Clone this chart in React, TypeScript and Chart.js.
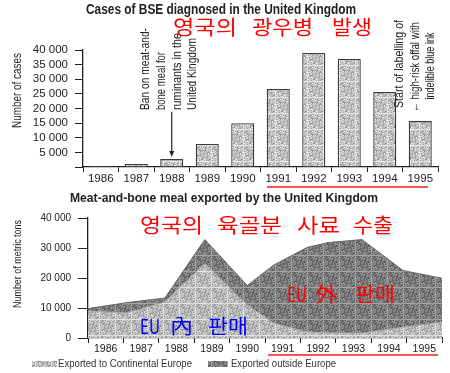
import React, { useEffect, useRef } from "react";
import { Chart, registerables } from "chart.js";

Chart.register(...registerables);

// ---- data: BSE cases (top chart) ----
const bseYears = ["1986", "1987", "1988", "1989", "1990", "1991", "1992", "1993", "1994", "1995"];
const bseCases = [300, 1000, 2700, 7900, 15000, 26700, 39000, 36900, 25600, 15700];
const bseTickStep = 5000;
const bseMax = 40000;

// ---- data: meat-and-bone meal exports (bottom chart) ----
const exportYearLabels = [1986, 1987, 1988, 1989, 1990, 1991, 1992, 1993, 1994, 1995];
const exportPointYears = [1985.5, 1986.6, 1987.67, 1988.8, 1990.0, 1990.73, 1991.69, 1992.28, 1993.24, 1994.4, 1995.5];
const exportedContinental = [9000, 8300, 12000, 24800, 11000, 5000, 2000, 1700, 1600, 3600, 5300];
const exportedOutside = [800, 3500, 1300, 8000, 6500, 19200, 28200, 30100, 31200, 18900, 14600];
const exportTickStep = 10000;
const exportMax = 40000;

const seriesNames = ["Exported to Continental Europe", "Exported outside Europe"];

const INK = "#222";
const LATIN = "'Liberation Sans', Arial, sans-serif";
const NARROW = "'Liberation Sans Narrow', 'Liberation Sans', Arial, sans-serif";
const KR = "'Noto Sans CJK KR', sans-serif";

const fmt = (v: number) => {
  const s = String(Math.round(v));
  return s.length > 3 ? s.slice(0, s.length - 3) + " " + s.slice(s.length - 3) : s;
};

function makePattern(ctx: CanvasRenderingContext2D, base: string, light: string, dark: string) {
  const c = document.createElement("canvas");
  c.width = 16;
  c.height = 16;
  const g = c.getContext("2d")!;
  g.fillStyle = base;
  g.fillRect(0, 0, 16, 16);
  for (let i = 0; i < 16; i++) {
    for (let j = 0; j < 16; j++) {
      const h = (i * 73 + j * 151 + i * j * 29) % 17;
      if (h < 4) {
        g.fillStyle = dark;
        g.fillRect(i, j, 1, 1);
      } else if (h > 12) {
        g.fillStyle = light;
        g.fillRect(i, j, 1, 1);
      }
    }
  }
  return ctx.createPattern(c, "repeat") as CanvasPattern;
}

// draw text fitted to a target width; (x,y) = start (or center) point, baseline middle
function fitText(
  ctx: CanvasRenderingContext2D,
  text: string,
  x: number,
  y: number,
  width: number,
  font: string,
  color: string,
  opts: { rotate?: boolean; align?: "left" | "center" } = {}
) {
  ctx.save();
  ctx.font = font;
  ctx.fillStyle = color;
  ctx.textBaseline = "middle";
  ctx.textAlign = "left";
  const w = ctx.measureText(text).width || 1;
  const sx = width / w;
  ctx.translate(x, y);
  if (opts.rotate) ctx.rotate(-Math.PI / 2);
  ctx.scale(sx, 1);
  ctx.fillText(text, opts.align === "center" ? -w / 2 : 0, 0);
  ctx.restore();
}

// draw a phrase word by word, each word fitted to its span [x1, x2]
function words(ctx: CanvasRenderingContext2D, parts: [string, number, number][], y: number, color: string) {
  parts.forEach(([t, x1, x2]) => fitText(ctx, t, x1, y, x2 - x1, `20px ${KR}`, color));
}

function redLine(ctx: CanvasRenderingContext2D, x1: number, x2: number, y: number) {
  ctx.save();
  ctx.strokeStyle = "#ff1a1a";
  ctx.lineWidth = 1.5;
  ctx.beginPath();
  ctx.moveTo(x1, y);
  ctx.lineTo(x2, y);
  ctx.stroke();
  ctx.restore();
}

function stepTicks(max: number, step: number) {
  const out: { value: number }[] = [];
  for (let v = 0; v <= max; v += step) out.push({ value: v });
  return out;
}

export default function App() {
  const topRef = useRef<HTMLCanvasElement>(null);
  const botRef = useRef<HTMLCanvasElement>(null);

  useEffect(() => {
    const topCtx = topRef.current!.getContext("2d")!;
    const botCtx = botRef.current!.getContext("2d")!;

    const barPattern = makePattern(topCtx, "#c2c2c2", "#e8e8e8", "#939393");
    const lightPattern = makePattern(botCtx, "#bababa", "#e2e2e2", "#909090");
    const darkPattern = makePattern(botCtx, "#7b7b7b", "#a4a4a4", "#555555");

    const topPlugin = {
      id: "topDecor",
      afterDraw(chart: any) {
        const ctx: CanvasRenderingContext2D = chart.ctx;
        const xs = chart.scales.x;
        const ys = chart.scales.y;
        fitText(ctx, "Cases of BSE diagnosed in the United Kingdom", 86, 10, 270, `bold 14px ${LATIN}`, INK);
        fitText(ctx, "Number of cases", 18, 128, 75, `12px ${NARROW}`, INK, { rotate: true });

        // annotation: ban
        const banLines = ["Ban on meat-and-", "bone meal for", "ruminants in the", "United Kingdom"];
        const banLens = [82, 58, 77, 72];
        const banX = [146, 162, 178, 193];
        banLines.forEach((t, i) =>
          fitText(ctx, t, banX[i], 110, banLens[i], `12.5px ${NARROW}`, INK, { rotate: true })
        );
        const ax = xs.getPixelForValue(2);
        const ay = ys.getPixelForValue(bseCases[2]);
        ctx.save();
        ctx.strokeStyle = INK;
        ctx.fillStyle = INK;
        ctx.lineWidth = 1.2;
        ctx.beginPath();
        ctx.moveTo(ax, 112);
        ctx.lineTo(ax, ay - 6);
        ctx.stroke();
        ctx.beginPath();
        ctx.moveTo(ax - 2.5, ay - 8);
        ctx.lineTo(ax + 2.5, ay - 8);
        ctx.lineTo(ax, ay - 2);
        ctx.closePath();
        ctx.fill();
        ctx.restore();

        // annotation: labelling
        const labLines = ["Start of labelling of", "\u2190 high-risk offal with", "indelible blue ink"];
        const labLens = [88, 90, 67];
        const labX = [400, 416, 431];
        const labMid = [64, 67, 66];
        labLines.forEach((t, i) =>
          fitText(ctx, t, labX[i], labMid[i], labLens[i], `12.5px ${NARROW}`, INK, { rotate: true, align: "center" })
        );

        // Korean overlay
        words(ctx, [["영국의", 173, 237], ["광우병", 252, 313], ["발생", 332, 372]], 27, "#ff0000");
        redLine(ctx, 267, 428, 187);
      },
    };

    const topChart = new Chart(topCtx, {
      type: "bar",
      data: {
        labels: bseYears,
        datasets: [
          {
            data: bseCases,
            backgroundColor: barPattern,
            borderColor: "#3c3c3c",
            borderWidth: { left: 1.3, right: 1.3, top: 1.3, bottom: 0 } as any,
            borderSkipped: "start",
            categoryPercentage: 1,
            barPercentage: 0.65,
          },
        ],
      },
      options: {
        responsive: false,
        animation: false,
        devicePixelRatio: 1,
        layout: { padding: { left: 0, right: 12, top: 50, bottom: 0 } },
        plugins: { legend: { display: false }, tooltip: { enabled: false }, title: { display: false } },
        scales: {
          x: {
            grid: { drawOnChartArea: false, drawTicks: true, tickLength: 5, color: INK, offset: true },
            border: { display: true, color: INK, width: 1.3 },
            ticks: { font: { family: LATIN, size: 11.5 }, color: INK, padding: 0, maxRotation: 0, autoSkip: false },
            afterFit: (s: any) => {
              s.height = 23;
            },
          },
          y: {
            min: 0,
            max: bseMax,
            afterBuildTicks: (s: any) => {
              s.ticks = stepTicks(bseMax, bseTickStep);
            },
            ticks: {
              autoSkip: false,
              callback: (v: any) => (v === 0 ? "" : fmt(v)),
              font: { family: LATIN, size: 11.5 },
              color: INK,
              padding: 7,
            },
            grid: { drawOnChartArea: false, tickLength: 8, color: INK },
            border: { display: true, color: INK, width: 1.3 },
            afterFit: (s: any) => {
              s.width = 83;
            },
          },
        },
      },
      plugins: [topPlugin],
    });

    const halfTicks: number[] = [];
    exportYearLabels.forEach((y, i) => {
      if (i === 0) halfTicks.push(y - 0.5);
      halfTicks.push(y);
      halfTicks.push(y + 0.5);
    });

    const botPlugin = {
      id: "botDecor",
      afterDraw(chart: any) {
        const ctx: CanvasRenderingContext2D = chart.ctx;
        fitText(ctx, "Meat-and-bone meal exported by the United Kingdom", 70, 9, 308, `bold 12.5px ${LATIN}`, INK);
        fitText(ctx, "Number of metric tons", 18, 118, 88, `11.5px ${NARROW}`, INK, { rotate: true });
        words(ctx, [["영국의", 140, 203], ["육골분", 217, 282], ["사료", 297, 340], ["수출", 353, 393]], 35, "#ff0000");
        words(ctx, [["EU", 287, 307], ["外", 315, 338], ["판매", 355, 395]], 104, "#ff0000");
        words(ctx, [["EU", 140, 160], ["內", 170, 193], ["판매", 208, 248]], 136, "#0000ff");
        redLine(ctx, 268, 438, 165);

        // legend
        ctx.save();
        ctx.fillStyle = lightPattern;
        ctx.fillRect(32, 171, 25, 6);
        ctx.fillStyle = darkPattern;
        ctx.fillRect(208, 171, 20, 6);
        ctx.restore();
        fitText(ctx, seriesNames[0], 58, 174, 134, `11px ${LATIN}`, "#333");
        fitText(ctx, seriesNames[1], 231, 174, 105, `11px ${LATIN}`, "#333");
      },
    };

    const botChart = new Chart(botCtx, {
      type: "line",
      data: {
        datasets: [
          {
            label: seriesNames[0],
            data: exportPointYears.map((x, i) => ({ x, y: exportedContinental[i] })),
            fill: "origin",
            backgroundColor: lightPattern,
            borderColor: "#a9a9a9",
            borderWidth: 1,
            pointRadius: 0,
            tension: 0,
          },
          {
            label: seriesNames[1],
            data: exportPointYears.map((x, i) => ({ x, y: exportedOutside[i] })),
            fill: "-1",
            backgroundColor: darkPattern,
            borderColor: "#666",
            borderWidth: 1,
            pointRadius: 0,
            tension: 0,
          },
        ],
      },
      options: {
        responsive: false,
        animation: false,
        devicePixelRatio: 1,
        layout: { padding: { left: 0, right: 8, top: 28, bottom: 0 } },
        plugins: { legend: { display: false }, tooltip: { enabled: false }, title: { display: false } },
        scales: {
          x: {
            type: "linear",
            min: exportYearLabels[0] - 0.5,
            max: exportYearLabels[exportYearLabels.length - 1] + 0.5,
            afterBuildTicks: (s: any) => {
              s.ticks = halfTicks.map((v) => ({ value: v }));
            },
            ticks: {
              autoSkip: false,
              maxRotation: 0,
              padding: 0,
              font: { family: LATIN, size: 10.5 },
              color: INK,
              callback: (v: any) => (Number.isInteger(v) ? String(v) : ""),
            },
            grid: {
              drawOnChartArea: false,
              tickLength: 5,
              tickColor: (c: any) => (c.tick && Number.isInteger(c.tick.value) ? "rgba(0,0,0,0)" : INK),
            },
            border: { display: true, color: INK, width: 1.3 },
            afterFit: (s: any) => {
              s.height = 35;
            },
          },
          y: {
            stacked: true,
            min: 0,
            max: exportMax,
            afterBuildTicks: (s: any) => {
              s.ticks = stepTicks(exportMax, exportTickStep);
            },
            ticks: {
              autoSkip: false,
              callback: (v: any) => fmt(v),
              font: { family: LATIN, size: 10 },
              color: INK,
              padding: 7,
            },
            grid: { drawOnChartArea: false, tickLength: 10, color: INK },
            border: { display: true, color: INK, width: 1.3 },
            afterFit: (s: any) => {
              s.width = 88;
            },
          },
        },
      },
      plugins: [botPlugin],
    });

    return () => {
      topChart.destroy();
      botChart.destroy();
    };
  }, []);

  return (
    <div style={{ position: "absolute", left: 0, top: 0, width: 450, height: 373, background: "#fff" }}>
      <canvas ref={topRef} width={450} height={190} style={{ position: "absolute", left: 0, top: 0, width: 450, height: 190 }} />
      <canvas ref={botRef} width={450} height={183} style={{ position: "absolute", left: 0, top: 190, width: 450, height: 183 }} />
    </div>
  );
}
